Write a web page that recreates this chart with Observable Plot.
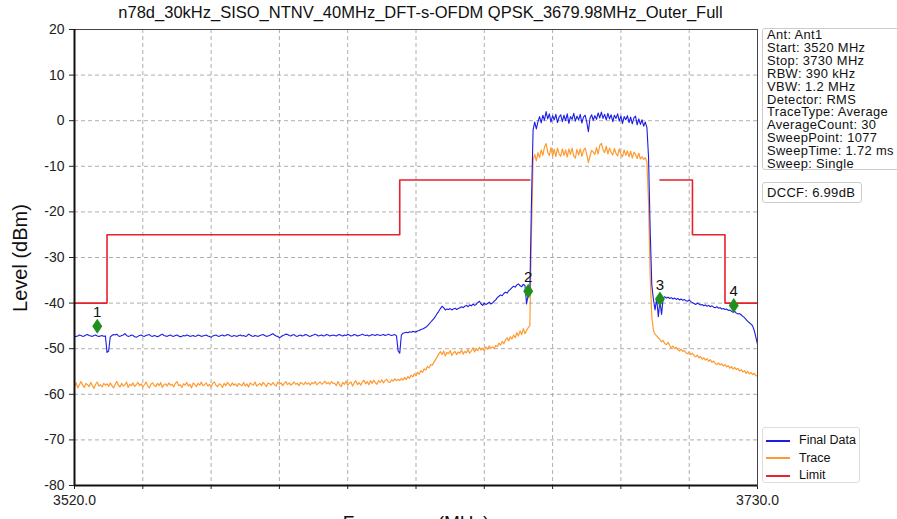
<!DOCTYPE html>
<html>
<head>
<meta charset="utf-8">
<script src="https://cdn.jsdelivr.net/npm/d3@7"></script>
<script src="https://cdn.jsdelivr.net/npm/@observablehq/plot@0.6"></script>
<style>
  body { margin: 0; background: #fff; }
  #wrap { position: relative; width: 897px; height: 519px; overflow: hidden; font-family: "Liberation Sans", Arial, sans-serif; color: #111; }
  #chart { position: absolute; left: 0; top: 0; }
  .abs { position: absolute; white-space: nowrap; }
  #title { left: 0; top: 3px; width: 841px; text-align: center; font-size: 16.5px; }
  #info { left: 762px; top: 28px; width: 140px; height: 142px; border: 1px solid #ccc; border-radius: 3px; box-sizing: border-box; padding: 0 0 0 4px; font-size: 12.9px; line-height: 12.9px; letter-spacing: 0.35px; background: #fff; }
  #dccf { left: 762px; top: 182px; width: 100px; height: 21px; border: 1px solid #ccc; border-radius: 3px; box-sizing: border-box; padding: 3px 0 0 4px; font-size: 13px; line-height: 14px; letter-spacing: 0.3px; background: #fff; }
  #legend { left: 762px; top: 427px; width: 98px; height: 56px; border: 1px solid #ddd; border-radius: 3px; box-sizing: border-box; background: #fff; font-size: 12.5px; }
  .lrow { position: absolute; left: 3px; height: 14px; line-height: 14px; }
  .lsw { display: inline-block; width: 24px; height: 0; border-top: 2px solid; vertical-align: middle; margin-right: 9px; }
  #ylab { left: 20px; top: 258px; font-size: 20px; transform: translate(-50%, -50%) rotate(-90deg); }
  #xlab { left: 0; width: 832px; text-align: center; top: 512px; font-size: 19px; line-height: 22px; }
</style>
</head>
<body>
<div id="wrap">
  <div id="chart"></div>
  <div id="title" class="abs"></div>
  <div id="info" class="abs"></div>
  <div id="dccf" class="abs"></div>
  <div id="legend" class="abs"></div>
  <div id="ylab" class="abs">Level (dBm)</div>
  <div id="xlab" class="abs">Frequency (MHz)</div>
</div>
<script>
// ---------------- data ----------------
const titleText = "n78d_30kHz_SISO_NTNV_40MHz_DFT-s-OFDM QPSK_3679.98MHz_Outer_Full";
const infoLines = ["Ant: Ant1", "Start: 3520 MHz", "Stop: 3730 MHz", "RBW: 390 kHz", "VBW: 1.2 MHz",
  "Detector: RMS", "TraceType: Average", "AverageCount: 30", "SweepPoint: 1077", "SweepTime: 1.72 ms", "Sweep: Single"];
const dccfText = "DCCF: 6.99dB";
const seriesNames = ["Final Data", "Trace", "Limit"];
const seriesColors = ["#1c1ce6", "#ff9a30", "#e8212b"];

const xTicks = [3520, 3541, 3562, 3583, 3604, 3625, 3646, 3667, 3688, 3709, 3730];
const xTickLabels = ["3520.0", "", "", "", "", "", "", "", "", "", "3730.0"];
const yTicks = [20, 10, 0, -10, -20, -30, -40, -50, -60, -70, -80];

// sampled every 0.5 MHz from 3520 MHz
const freqStart = 3520;
const freqStep = 0.5;

const finalData = [
  -47.4,-47.3,-47.2,-47.0,-47.1,-47.3,-47.2,-47.0,-46.9,-47.1,-47.2,-47.3,-47.1,-47.0,-47.2,-47.3,-47.2,-47.1,-47.3,-47.2,
  -50.8,-50.5,-47.4,-47.1,-46.9,-47.0,-46.8,-47.2,-47.3,-47.1,-47.0,-46.7,-47.1,-47.3,-47.2,-47.0,-47.1,-47.4,-47.5,-47.3,
  -47.1,-47.0,-47.2,-47.3,-47.1,-47.0,-46.9,-47.2,-47.3,-47.1,-47.2,-47.4,-47.2,-47.0,-46.8,-47.1,-47.2,-47.3,-47.1,-47.0,
  -47.2,-47.3,-47.1,-47.0,-47.2,-47.4,-47.3,-47.1,-47.2,-47.0,-47.1,-47.3,-47.2,-47.1,-47.3,-47.2,-47.0,-47.1,-47.3,-47.2,
  -47.1,-47.0,-47.2,-47.3,-47.5,-47.2,-47.1,-47.0,-47.2,-47.3,-47.1,-47.0,-47.2,-47.1,-46.9,-47.0,-47.2,-47.3,-47.1,-47.2,
  -47.3,-47.1,-47.0,-47.2,-47.1,-47.3,-47.2,-46.8,-47.0,-47.2,-47.3,-47.1,-47.2,-47.3,-47.1,-47.0,-46.9,-47.1,-47.3,-47.2,
  -47.1,-46.9,-46.7,-47.0,-47.2,-47.3,-47.6,-47.4,-47.1,-47.0,-46.8,-46.9,-47.1,-47.2,-47.0,-46.9,-47.2,-47.3,-47.1,-47.0,
  -47.2,-47.1,-46.9,-47.0,-47.2,-47.3,-47.1,-47.0,-46.8,-47.0,-47.2,-47.1,-47.0,-47.2,-47.1,-46.9,-47.0,-47.2,-47.1,-47.0,
  -47.1,-47.2,-47.0,-46.9,-47.1,-47.2,-47.0,-47.1,-46.9,-47.0,-47.2,-47.1,-46.9,-47.0,-47.2,-47.1,-47.0,-46.8,-47.0,-47.1,
  -47.0,-47.2,-47.1,-46.9,-47.0,-47.1,-46.9,-47.0,-47.1,-47.0,-46.9,-47.1,-47.0,-46.8,-47.0,-47.1,-47.0,-46.9,-47.2,-50.5,
  -51.0,-47.0,-46.6,-46.5,-46.4,-46.5,-46.3,-46.4,-46.2,-46.3,-46.3,-46.1,-46.0,-45.8,-45.7,-45.5,-45.3,-45.0,-44.6,-44.2,
  -43.8,-43.4,-42.9,-42.3,-41.8,-41.2,-40.7,-41.0,-41.5,-41.3,-41.4,-41.2,-41.5,-41.3,-41.1,-41.4,-41.2,-41.0,-40.8,-41.0,
  -40.7,-40.5,-40.8,-40.4,-40.6,-40.2,-40.5,-40.3,-39.9,-39.6,-40.2,-40.5,-40.0,-40.3,-40.1,-39.8,-40.2,-40.0,-39.6,-39.3,
  -38.8,-38.5,-38.2,-38.4,-37.9,-37.6,-37.8,-37.3,-37.0,-36.6,-36.3,-36.5,-36.0,-35.8,-36.2,-36.4,-35.9,-36.1,-40.2,-38.0,
  -37.5,-18.0,-2.0,-0.3,-1.8,-0.2,0.9,-0.5,1.2,0.1,2.0,0.4,1.5,-0.3,1.1,0.2,1.4,-0.4,0.8,1.3,
  -0.2,1.2,0.0,1.5,-0.6,0.9,0.3,1.6,-0.1,1.0,0.2,1.4,-0.5,0.8,1.2,-0.3,-2.4,0.6,1.3,0.1,
  1.1,0.3,1.7,0.6,1.9,0.5,1.4,0.2,1.6,0.4,1.3,-0.2,1.2,0.5,1.5,-0.1,1.0,-0.6,0.9,0.2,
  1.1,-0.4,0.8,-0.7,0.6,1.0,-0.9,0.4,-0.8,0.2,-1.2,-0.3,-1.5,-8.0,-24.0,-36.0,-39.2,-41.5,-39.0,-43.0,
  -39.5,-42.5,-38.8,-38.6,-38.9,-38.7,-39.0,-38.8,-39.1,-38.9,-39.2,-39.0,-39.3,-39.1,-39.4,-39.2,-39.5,-39.6,-39.3,-39.7,
  -39.9,-40.1,-40.3,-40.0,-40.2,-40.4,-40.3,-40.6,-40.4,-40.7,-40.5,-40.8,-40.6,-40.9,-41.0,-40.8,-41.1,-41.0,-41.3,-41.2,
  -41.4,-41.3,-41.6,-41.5,-41.8,-42.0,-41.8,-42.2,-42.4,-42.3,-42.6,-42.9,-43.2,-43.6,-44.0,-44.3,-44.6,-45.0,-46.0,-47.5,-49.0
];

const traceData = [
  -58.2,-57.5,-58.6,-57.9,-57.2,-58.0,-58.5,-57.6,-57.9,-58.3,-57.4,-58.1,-58.7,-57.8,-57.3,-58.2,-57.9,-58.4,-57.6,-58.0,
  -57.7,-58.3,-57.5,-58.1,-58.6,-57.8,-57.2,-58.0,-58.4,-57.6,-58.2,-57.9,-57.3,-58.5,-57.8,-58.1,-57.5,-58.3,-57.9,-57.4,
  -58.1,-57.7,-58.4,-57.9,-57.3,-58.2,-58.6,-57.8,-57.5,-58.0,-58.3,-57.6,-58.1,-57.4,-58.5,-57.9,-57.7,-58.2,-57.5,-58.0,
  -57.8,-58.4,-57.6,-57.2,-58.1,-57.9,-58.5,-57.7,-58.0,-57.4,-58.2,-57.8,-58.6,-57.5,-57.9,-58.3,-57.6,-58.0,-57.3,-58.1,
  -57.9,-57.5,-58.2,-57.8,-58.4,-57.6,-57.3,-58.0,-58.3,-57.7,-57.9,-58.5,-57.6,-58.1,-57.4,-57.8,-58.2,-57.5,-58.0,-57.7,
  -58.3,-57.6,-57.9,-58.1,-57.4,-58.2,-57.7,-58.4,-57.5,-57.8,-58.0,-57.3,-58.2,-57.9,-57.6,-58.1,-57.4,-57.8,-58.3,-57.5,
  -57.7,-58.0,-57.4,-57.9,-58.2,-57.3,-57.8,-57.5,-58.1,-57.6,-57.2,-57.9,-57.5,-58.0,-57.7,-57.3,-57.8,-57.6,-58.1,-57.4,
  -57.6,-57.9,-57.3,-57.8,-57.5,-58.0,-57.4,-57.7,-57.2,-57.9,-57.6,-57.3,-57.8,-57.5,-57.1,-57.7,-57.4,-57.8,-57.2,-57.6,
  -57.6,-58.1,-57.2,-57.9,-58.3,-57.4,-57.8,-57.1,-58.0,-57.6,-57.3,-58.2,-57.5,-57.0,-57.9,-57.4,-58.0,-57.3,-56.9,-57.7,
  -57.2,-57.9,-57.0,-57.6,-56.9,-57.5,-57.8,-57.0,-57.4,-56.8,-57.5,-57.0,-56.7,-57.3,-57.4,-56.8,-57.1,-56.6,-57.0,-56.7,
  -57.0,-56.5,-56.9,-56.3,-56.8,-56.1,-56.5,-55.8,-56.2,-55.5,-55.9,-55.2,-55.6,-54.8,-55.2,-54.4,-54.7,-53.9,-54.2,-53.5,
  -53.6,-53.0,-52.4,-51.8,-51.2,-50.6,-51.3,-50.5,-51.6,-50.8,-51.1,-50.4,-51.5,-50.9,-50.6,-51.3,-50.7,-51.0,-50.3,-51.2,
  -50.6,-50.9,-50.2,-51.0,-50.5,-49.8,-50.7,-50.1,-50.4,-49.7,-50.3,-49.9,-50.5,-49.6,-50.1,-49.4,-49.9,-49.6,-50.0,-49.3,
  -49.5,-48.8,-49.2,-48.4,-48.9,-48.1,-47.6,-48.3,-47.4,-47.9,-47.0,-47.6,-46.5,-47.2,-46.1,-46.9,-45.6,-46.7,-46.0,-45.4,
  -45.0,-25.0,-8.6,-7.4,-8.8,-7.0,-8.1,-6.4,-7.6,-5.8,-5.0,-6.9,-7.6,-5.9,-7.7,-6.3,-7.9,-6.0,-7.3,-7.8,
  -6.2,-7.6,-6.4,-8.0,-6.2,-7.4,-6.0,-7.7,-8.2,-6.3,-7.5,-6.2,-7.8,-6.5,-6.0,-7.4,-9.2,-7.8,-6.5,-6.9,
  -7.4,-5.9,-7.3,-5.4,-5.0,-6.3,-7.0,-5.6,-7.3,-6.0,-7.0,-7.5,-6.1,-7.2,-7.7,-6.2,-7.3,-7.9,-6.4,-7.6,
  -6.6,-7.9,-6.7,-8.2,-6.9,-7.4,-8.3,-7.1,-8.4,-7.9,-8.5,-8.1,-9.0,-18.0,-34.0,-43.0,-46.0,-46.8,-47.2,-47.6,
  -48.0,-48.5,-48.2,-48.9,-49.1,-48.6,-49.3,-49.8,-49.4,-50.0,-49.7,-50.2,-50.5,-50.1,-50.6,-50.4,-50.9,-51.1,-50.7,-51.3,
  -51.0,-51.5,-51.8,-51.4,-52.0,-51.7,-52.3,-52.0,-52.5,-52.2,-52.8,-52.4,-53.0,-52.7,-53.2,-53.5,-53.1,-53.6,-53.3,-53.8,
  -53.5,-54.0,-53.7,-54.3,-53.9,-54.5,-54.1,-54.6,-54.3,-54.9,-54.6,-55.1,-54.8,-55.4,-55.0,-55.5,-55.2,-55.7,-55.4,-55.9,-56.0
];

// limit: step levels (each level holds until the next frequency), two separate pieces
const limitFreq  = [3520, 3530, 3620, 3660, 3700, 3710, 3720, 3730];
const limitLevel = [-40, -25, -13, -13, -13, -25, -40, -40];
const limitPiece = ["a", "a", "a", "a", "b", "b", "b", "b"];

// markers
const markerLabel = ["1", "2", "3", "4"];
const markerFreq  = [3527, 3659.5, 3700, 3722.7];
const markerLevel = [-45.1, -37.4, -39.1, -40.5];

// ---------------- build ----------------
const blueRows = finalData.map((v, i) => ({f: freqStart + i * freqStep, v}));
const orangeRows = traceData.map((v, i) => ({f: freqStart + i * freqStep, v}));
const limitRows = limitFreq.map((f, i) => ({f, v: limitLevel[i], p: limitPiece[i]}));
const markerRows = markerFreq.map((f, i) => ({f, v: markerLevel[i], t: markerLabel[i]}));

const tallDiamond = {
  draw(ctx) {
    const w = 5, h = 7.5;
    ctx.moveTo(0, -h); ctx.lineTo(w, 0); ctx.lineTo(0, h); ctx.lineTo(-w, 0); ctx.closePath();
  }
};

const gridX = xTicks.slice(1, -1);
const gridY = yTicks.slice(1, -1);

const chart = Plot.plot({
  width: 897,
  height: 519,
  marginLeft: 74,
  marginRight: 140,
  marginTop: 29,
  marginBottom: 34,
  x: {domain: [3520, 3730]},
  y: {domain: [-80, 20]},
  style: {background: "#fff", fontFamily: "Liberation Sans, Arial, sans-serif", color: "#222"},
  marks: [
    Plot.ruleX(gridX, {stroke: "#999", strokeWidth: 0.8, strokeDasharray: "4,3"}),
    Plot.ruleY(gridY, {stroke: "#999", strokeWidth: 0.8, strokeDasharray: "4,3"}),
    Plot.axisY({ticks: yTicks, tickSize: 5, tickPadding: 5, fontSize: 14, label: null, tickFormat: d => String(d)}),
    Plot.axisX({ticks: xTicks, tickSize: 4, tickPadding: 6, fontSize: 14, label: null,
      tickFormat: d => xTickLabels[xTicks.indexOf(d)]}),
    Plot.line(orangeRows, {x: "f", y: "v", stroke: seriesColors[1], strokeWidth: 1.2}),
    Plot.line(blueRows, {x: "f", y: "v", stroke: seriesColors[0], strokeWidth: 1.1}),
    Plot.line(limitRows, {x: "f", y: "v", z: "p", curve: "step-after", stroke: seriesColors[2], strokeWidth: 1.6}),
    Plot.dot(markerRows, {x: "f", y: "v", symbol: tallDiamond, fill: "#1f8f1f", stroke: "none"}),
    Plot.text(markerRows, {x: "f", y: "v", text: "t", dy: -14, fontSize: 15, fill: "#111"}),
    Plot.frame({stroke: "#444", strokeWidth: 1}),
    Plot.ruleX([3520], {stroke: "#111", strokeWidth: 2}),
    Plot.ruleY([-80], {stroke: "#111", strokeWidth: 2})
  ]
});
document.getElementById("chart").appendChild(chart);

document.getElementById("title").textContent = titleText;
document.getElementById("info").innerHTML = infoLines.map(s => `<div>${s}</div>`).join("");
document.getElementById("dccf").textContent = dccfText;
document.getElementById("legend").innerHTML = seriesNames.map((s, i) =>
  `<div class="lrow" style="top:${5 + i * 17.5}px"><span class="lsw" style="border-color:${seriesColors[i]}"></span>${s}</div>`).join("");
</script>
</body>
</html>
